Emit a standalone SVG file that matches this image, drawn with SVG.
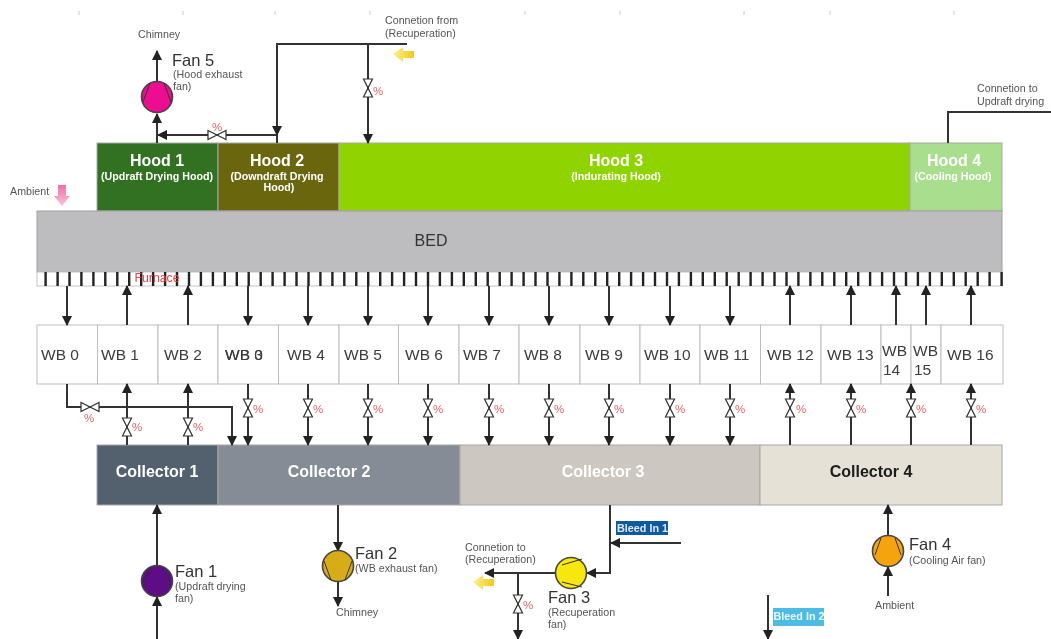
<svg xmlns="http://www.w3.org/2000/svg" xmlns:xlink="http://www.w3.org/1999/xlink" width="1051" height="639" viewBox="0 0 1051 639">
<style>
text{font-family:"Liberation Sans",Arial,sans-serif}
.hd{font-size:16px;font-weight:700;fill:#fff;text-anchor:middle}
.hs{font-size:10.7px;font-weight:700;fill:#fff;text-anchor:middle}
.box{stroke:#a8a8a8;stroke-width:1}
.wb{fill:#fff;stroke:#bdbdbd;stroke-width:1}
.wt{font-size:15.5px;fill:#3c3c3c}
.c{font-size:16px;font-weight:700;text-anchor:middle;fill:#fff}
.fan{font-size:16.5px;fill:#333}
.s{font-size:10.7px;fill:#555}
.p{font-size:11.5px;fill:#e8626a}
.ln{fill:none;stroke:#333;stroke-width:2}
.ah{fill:none;stroke:#333;stroke-width:2;marker-end:url(#a)}
.v{fill:#fff;stroke:#333;stroke-width:1.2}
.bl{fill:none;stroke:#333;stroke-width:1}
.circ{stroke:#444;stroke-width:1.6}
.tick{stroke:#c8c8c8;stroke-width:1}
.bar{stroke:#222;stroke-width:2.4}
</style>
<defs>
<filter id="soft" x="0" y="0" width="100%" height="100%"><feGaussianBlur stdDeviation="0.45"/></filter>
<marker id="a" markerUnits="userSpaceOnUse" markerWidth="10" markerHeight="12" refX="9" refY="5" orient="auto"><path d="M0 0L10 5L0 10Z" fill="#222"/></marker>
<linearGradient id="gy" x1="0" x2="1" y1="0" y2="0"><stop offset="0" stop-color="#fdf08a"/><stop offset="1" stop-color="#f3c91c"/></linearGradient>
<linearGradient id="gp" x1="0" x2="0" y1="0" y2="1"><stop offset="0" stop-color="#ee6fa5"/><stop offset="1" stop-color="#fbc4da"/></linearGradient>
<g id="vv"><path class="v" d="M-4.500 -9L4.500 -9L-4.500 9L4.500 9Z"/></g>
<g id="vh"><path class="v" d="M-9 -4.500L-9 4.500L9 -4.500L9 4.500Z"/></g>
</defs>
<g filter="url(#soft)">
<rect width="1051" height="639" fill="#fff"/>
<g id="ticks">
<path class="tick" d="M79 11v4M183 11v4M275 11v4M370 11v4M525 11v4M620 11v4M744 11v4M830 11v4M954 11v4"/>
</g>

<g id="hood-1"><rect class="box" x="97" y="143" width="121" height="68" fill="#337122"/><text class="hd" x="157" y="166">Hood 1</text><text class="hs" x="157" y="180">(Updraft Drying Hood)</text></g>
<g id="hood-2"><rect class="box" x="218" y="143" width="121" height="68" fill="#6b660f"/><text class="hd" x="277" y="166">Hood 2</text><text class="hs" x="277" y="180">(Downdraft Drying</text><text class="hs" x="279" y="191">Hood)</text></g>
<g id="hood-3"><rect class="box" x="339" y="143" width="571" height="68" fill="#8fd400"/><text class="hd" x="616" y="166">Hood 3</text><text class="hs" x="616" y="180">(Indurating Hood)</text></g>
<g id="hood-4"><rect class="box" x="910" y="143" width="92" height="68" fill="#a9de8e"/><text class="hd" x="954" y="166">Hood 4</text><text class="hs" x="953" y="180">(Cooling Hood)</text></g>

<g id="bed"><rect x="37" y="211" width="965" height="61" fill="#bdbdc0" stroke="#a0a0a0"/><text x="431" y="246" font-size="16" fill="#333" text-anchor="middle">BED</text></g>
<g id="furnace"><rect x="37" y="272" width="965" height="14" fill="#fff" stroke="#c4c4c4"/>
<path class="bar" d="M45.600 272v14M57.600 272v14M69.500 272v14M81.400 272v14M93.400 272v14M105.300 272v14M117.300 272v14M129.200 272v14M141.200 272v14M153.100 272v14M165.100 272v14M177 272v14M189 272v14M200.900 272v14M212.900 272v14M224.800 272v14M236.800 272v14M248.700 272v14M260.700 272v14M272.600 272v14M284.600 272v14M296.500 272v14M308.500 272v14M320.400 272v14M332.400 272v14M344.300 272v14M356.300 272v14M368.200 272v14M380.200 272v14M392.100 272v14M404.100 272v14M416 272v14M428 272v14M439.900 272v14M451.900 272v14M463.800 272v14M475.800 272v14M487.700 272v14M499.700 272v14M511.600 272v14M523.600 272v14M535.500 272v14M547.500 272v14M559.400 272v14M571.400 272v14M583.300 272v14M595.300 272v14M607.200 272v14M619.200 272v14M631.100 272v14M643.100 272v14M655 272v14M667 272v14M678.900 272v14M690.900 272v14M702.800 272v14M714.800 272v14M726.700 272v14M738.700 272v14M750.600 272v14M762.600 272v14M774.500 272v14M786.500 272v14M798.400 272v14M810.400 272v14M822.300 272v14M834.300 272v14M846.200 272v14M858.200 272v14M870.100 272v14M882.100 272v14M894 272v14M906 272v14M917.900 272v14M929.900 272v14M941.800 272v14M953.800 272v14M965.700 272v14M977.700 272v14M989.600 272v14M1001.600 272v14"/>
<text x="157" y="282" font-size="12.300" fill="#e8434a" text-anchor="middle">Furnace</text></g>

<g id="wb-0"><rect class="wb" x="37" y="325" width="60.500" height="59"/><text class="wt" x="41" y="360">WB 0</text></g>
<g id="wb-1"><rect class="wb" x="97.500" y="325" width="60.500" height="59"/><text class="wt" x="101" y="360">WB 1</text></g>
<g id="wb-2"><rect class="wb" x="158" y="325" width="60" height="59"/><text class="wt" x="164" y="360">WB 2</text></g>
<g id="wb-3"><rect class="wb" x="218" y="325" width="60.500" height="59"/><text class="wt" x="225" y="360">WB 3</text><text class="wt" x="225" y="360">WB 0</text></g>
<g id="wb-4"><rect class="wb" x="278.500" y="325" width="60.500" height="59"/><text class="wt" x="287" y="360">WB 4</text></g>
<g id="wb-5"><rect class="wb" x="339" y="325" width="59.500" height="59"/><text class="wt" x="344" y="360">WB 5</text></g>
<g id="wb-6"><rect class="wb" x="398.500" y="325" width="60.500" height="59"/><text class="wt" x="405" y="360">WB 6</text></g>
<g id="wb-7"><rect class="wb" x="459" y="325" width="60" height="59"/><text class="wt" x="463" y="360">WB 7</text></g>
<g id="wb-8"><rect class="wb" x="519" y="325" width="61" height="59"/><text class="wt" x="524" y="360">WB 8</text></g>
<g id="wb-9"><rect class="wb" x="580" y="325" width="60" height="59"/><text class="wt" x="585" y="360">WB 9</text></g>
<g id="wb-10"><rect class="wb" x="640" y="325" width="60" height="59"/><text class="wt" x="644" y="360">WB 10</text></g>
<g id="wb-11"><rect class="wb" x="700" y="325" width="60.500" height="59"/><text class="wt" x="704" y="360">WB 11</text></g>
<g id="wb-12"><rect class="wb" x="760.500" y="325" width="60.500" height="59"/><text class="wt" x="767" y="360">WB 12</text></g>
<g id="wb-13"><rect class="wb" x="821" y="325" width="60" height="59"/><text class="wt" x="827" y="360">WB 13</text></g>
<g id="wb-14"><rect class="wb" x="881" y="325" width="30" height="59"/><text class="wt" x="882" y="356">WB</text><text class="wt" x="883" y="375">14</text></g>
<g id="wb-15"><rect class="wb" x="911" y="325" width="30" height="59"/><text class="wt" x="913" y="356">WB</text><text class="wt" x="914" y="375">15</text></g>
<g id="wb-16"><rect class="wb" x="941" y="325" width="62" height="59"/><text class="wt" x="947" y="360">WB 16</text></g>

<g id="collector-1"><rect class="box" x="97" y="445" width="121" height="60" fill="#52606e"/><text class="c" x="157" y="477">Collector 1</text></g>
<g id="collector-2"><rect class="box" x="218" y="445" width="242" height="60" fill="#858c95"/><text class="c" x="329" y="477">Collector 2</text></g>
<g id="collector-3"><rect class="box" x="460" y="445" width="300" height="60" fill="#ccc8c1"/><text class="c" x="603" y="477">Collector 3</text></g>
<g id="collector-4"><rect class="box" x="760" y="445" width="242" height="60" fill="#e5e1d6"/><text class="c" x="871" y="477" style="fill:#1a1a1a">Collector 4</text></g>

<g id="connectors">
<path class="ah" d="M67 286V325"/><path class="ah" d="M127 325V286"/><path class="ah" d="M188 325V286"/><path class="ah" d="M248 286V325"/><path class="ah" d="M308 286V325"/><path class="ah" d="M368 286V325"/><path class="ah" d="M428 286V325"/><path class="ah" d="M489 286V325"/><path class="ah" d="M549 286V325"/><path class="ah" d="M609 286V325"/><path class="ah" d="M670 286V325"/><path class="ah" d="M730 286V325"/><path class="ah" d="M790 325V286"/><path class="ah" d="M851 325V286"/><path class="ah" d="M896 325V286"/><path class="ah" d="M926 325V286"/><path class="ah" d="M971 325V286"/>
<path class="ah" d="M67 384V407H232V445"/>
<path class="ah" d="M127 445V384"/><path class="ah" d="M188 445V384"/>
<path class="ah" d="M248 384V445"/><path class="ah" d="M308 384V445"/><path class="ah" d="M368 384V445"/><path class="ah" d="M428 384V445"/><path class="ah" d="M489 384V445"/><path class="ah" d="M549 384V445"/><path class="ah" d="M609 384V445"/><path class="ah" d="M670 384V445"/><path class="ah" d="M730 384V445"/>
<path class="ah" d="M790 445V384"/><path class="ah" d="M851 445V384"/><path class="ah" d="M911 445V384"/><path class="ah" d="M971 445V384"/>
<path class="ln" d="M407 44H277V135"/><path class="ah" d="M277 120V135"/>
<path class="ah" d="M368 44V143"/>
<path class="ah" d="M277 135H158"/>
<path class="ln" d="M277 135V143"/>
<path class="ah" d="M157 143V114"/><path class="ah" d="M157 82V51"/>
<path class="ln" d="M948 143V112H1051"/>
<path class="ah" d="M157 565V505"/><path class="ah" d="M157 639V597"/>
<path class="ah" d="M338 505V551"/><path class="ah" d="M338 581V606"/>
<path class="ah" d="M610 505V573H587"/>
<path class="ah" d="M681 543H611"/>
<path class="ah" d="M555 573H485"/>
<path class="ah" d="M518 573V639"/>
<path class="ah" d="M768 595V639"/>
<path class="ah" d="M888 535V505"/><path class="ah" d="M888 596V567"/>
</g>

<g id="valves">
<use xlink:href="#vh" href="#vh" x="90" y="407"/><use xlink:href="#vh" href="#vh" x="217" y="135"/>
<use xlink:href="#vv" href="#vv" x="127" y="427"/><use xlink:href="#vv" href="#vv" x="188" y="427"/>
<use xlink:href="#vv" href="#vv" x="248" y="408"/><use xlink:href="#vv" href="#vv" x="308" y="408"/><use xlink:href="#vv" href="#vv" x="368" y="408"/><use xlink:href="#vv" href="#vv" x="428" y="408"/><use xlink:href="#vv" href="#vv" x="489" y="408"/><use xlink:href="#vv" href="#vv" x="549" y="408"/><use xlink:href="#vv" href="#vv" x="609" y="408"/><use xlink:href="#vv" href="#vv" x="670" y="408"/><use xlink:href="#vv" href="#vv" x="730" y="408"/><use xlink:href="#vv" href="#vv" x="790" y="408"/><use xlink:href="#vv" href="#vv" x="851" y="408"/><use xlink:href="#vv" href="#vv" x="911" y="408"/><use xlink:href="#vv" href="#vv" x="971" y="408"/>
<use xlink:href="#vv" href="#vv" x="368" y="88"/><use xlink:href="#vv" href="#vv" x="518" y="604"/>
<text class="p" x="84" y="422">%</text><text class="p" x="212" y="131">%</text>
<text class="p" x="132" y="431">%</text><text class="p" x="193" y="431">%</text>
<text class="p" x="253" y="413">%</text><text class="p" x="313" y="413">%</text><text class="p" x="373" y="413">%</text><text class="p" x="433" y="413">%</text><text class="p" x="494" y="413">%</text><text class="p" x="554" y="413">%</text><text class="p" x="614" y="413">%</text><text class="p" x="675" y="413">%</text><text class="p" x="735" y="413">%</text><text class="p" x="796" y="413">%</text><text class="p" x="856" y="413">%</text><text class="p" x="916" y="413">%</text><text class="p" x="976" y="413">%</text>
<text class="p" x="373" y="95">%</text><text class="p" x="523" y="609">%</text>
</g>

<g id="fan-5"><circle class="circ" cx="157" cy="97" r="15.500" fill="#ec0a91"/><path class="bl" d="M150 83L143 102M164 83L171 102"/><text class="fan" x="172" y="66">Fan 5</text><text class="s" x="173" y="78">(Hood exhaust</text><text class="s" x="173" y="90">fan)</text><text class="s" x="138" y="38">Chimney</text></g>
<g id="fan-1"><circle class="circ" cx="157" cy="581" r="15.500" fill="#5f0a87"/><path class="bl" d="M150 567L143 586M164 567L171 586"/><text class="fan" x="175" y="577">Fan 1</text><text class="s" x="175" y="590">(Updraft drying</text><text class="s" x="175" y="602">fan)</text></g>
<g id="fan-2"><circle class="circ" cx="338" cy="566" r="15.500" fill="#d6ad14"/><path class="bl" d="M324 561L331 580M352 561L345 580"/><text class="fan" x="355" y="559">Fan 2</text><text class="s" x="355" y="572">(WB exhaust fan)</text><text class="s" x="336" y="616">Chimney</text></g>
<g id="fan-3"><circle class="circ" cx="571" cy="573" r="15.500" fill="#f7e70f"/><path class="bl" d="M562 565L582 559M562 582L582 587"/><text class="fan" x="548" y="603">Fan 3</text><text class="s" x="548" y="616">(Recuperation</text><text class="s" x="548" y="628">fan)</text></g>
<g id="fan-4"><circle class="circ" cx="888" cy="551" r="15.500" fill="#f5a40f"/><path class="bl" d="M881 538L875 555M895 538L901 555"/><text class="fan" x="909" y="550">Fan 4</text><text class="s" x="909" y="564">(Cooling Air fan)</text><text class="s" x="875" y="609">Ambient</text></g>

<g id="labels">
<text class="s" x="385" y="24">Connetion from</text><text class="s" x="385" y="37">(Recuperation)</text>
<text class="s" x="977" y="92">Connetion to</text><text class="s" x="977" y="105">Updraft drying</text>
<text class="s" x="10" y="195">Ambient</text>
<text class="s" x="465" y="551">Connetion to</text><text class="s" x="465" y="563">(Recuperation)</text>
<path d="M393 54L403 47V51H414V58H403V62Z" fill="url(#gy)"/>
<path d="M473 582L483 575V579H494V586H483V590Z" fill="url(#gy)"/>
<path d="M58 185H66V196H70L62 206L54 196H58Z" fill="url(#gp)"/>
</g>
<g id="bleed-in-1"><rect x="616" y="521" width="52" height="14" fill="#0f5aa0"/><text x="617" y="532" font-size="10.800" font-weight="700" fill="#dfe9f3">Bleed In 1</text></g>
<g id="bleed-in-2"><rect x="773" y="608" width="51" height="18" fill="#4dbce4"/><text x="773.500" y="620" font-size="10.800" font-weight="700" fill="#eaf7fc">Bleed In 2</text></g>
</g>
</svg>
